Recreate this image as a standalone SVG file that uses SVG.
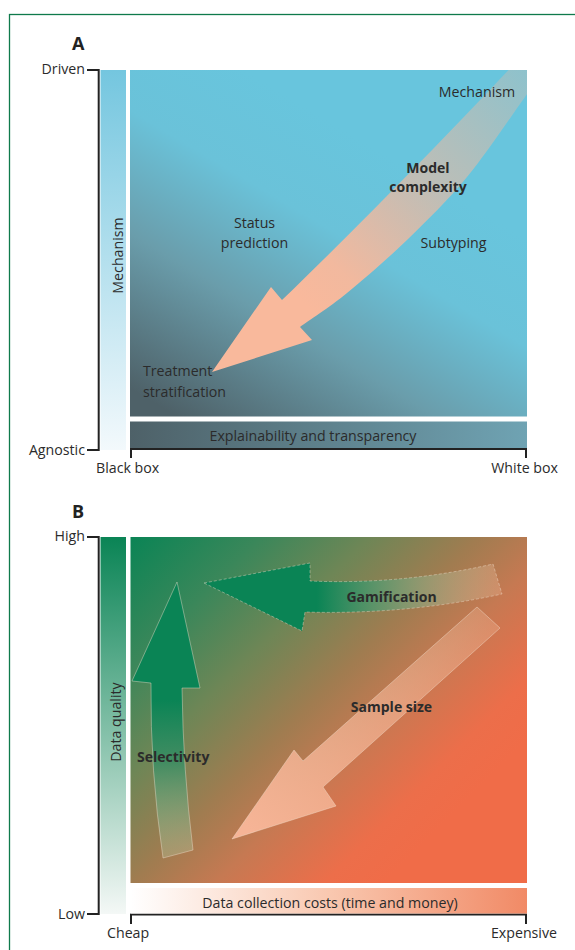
<svg xmlns="http://www.w3.org/2000/svg" width="575" height="950" viewBox="0 0 575 950">
<defs>
<style>
.t{font-family:"Open Sans","Liberation Sans",sans-serif;font-size:14.2px;fill:#2b2b2b}
.b{font-weight:bold;font-size:14px}
.ttl{font-family:"Open Sans","Liberation Sans",sans-serif;font-size:18px;font-weight:bold;fill:#222}
.ax{stroke:#222;stroke-width:2;fill:none}
.edge{stroke:#f4e2d2;stroke-opacity:0.6;stroke-width:0.7}
</style>
<linearGradient id="gA" gradientUnits="userSpaceOnUse" x1="370" y1="145" x2="200" y2="430">
<stop offset="0" stop-color="#68c5dd"/><stop offset="0.28" stop-color="#6ac2d9"/><stop offset="0.6" stop-color="#6a9dab"/><stop offset="1" stop-color="#4e6168"/>
</linearGradient>
<linearGradient id="gExp" x1="0" y1="0" x2="1" y2="0">
<stop offset="0" stop-color="#4e6168"/><stop offset="1" stop-color="#6fa3b3"/>
</linearGradient>
<linearGradient id="gMech" x1="0" y1="0" x2="0" y2="1">
<stop offset="0" stop-color="#74c6df"/><stop offset="1" stop-color="#f3f9fc"/>
</linearGradient>
<linearGradient id="gArrA" gradientUnits="userSpaceOnUse" x1="530" y1="65" x2="300" y2="300">
<stop offset="0" stop-color="#f9b99c" stop-opacity="0.25"/><stop offset="0.48" stop-color="#f9b99c" stop-opacity="0.6"/><stop offset="0.85" stop-color="#f9b99c" stop-opacity="0.95"/><stop offset="1" stop-color="#f9b99c"/>
</linearGradient>
<linearGradient id="gB" gradientUnits="userSpaceOnUse" x1="130" y1="537" x2="430" y2="837">
<stop offset="0" stop-color="#0a8455"/><stop offset="0.22" stop-color="#3b875a"/><stop offset="0.4" stop-color="#6e8656"/><stop offset="0.58" stop-color="#a07c50"/><stop offset="0.72" stop-color="#c67952"/><stop offset="0.9" stop-color="#ec6e4a"/><stop offset="1" stop-color="#f06c48"/>
</linearGradient>
<linearGradient id="gDQ" x1="0" y1="0" x2="0" y2="1">
<stop offset="0" stop-color="#0a8455"/><stop offset="1" stop-color="#f4f8f6"/>
</linearGradient>
<linearGradient id="gCost" x1="0" y1="0" x2="1" y2="0">
<stop offset="0" stop-color="#ffffff"/><stop offset="0.5" stop-color="#f9c8b0"/><stop offset="1" stop-color="#f18a66"/>
</linearGradient>
<linearGradient id="gGam" gradientUnits="userSpaceOnUse" x1="317" y1="0" x2="500" y2="0">
<stop offset="0" stop-color="#0a8455"/><stop offset="0.35" stop-color="#5a9a70" stop-opacity="0.8"/><stop offset="1" stop-color="#f0c0a0" stop-opacity="0.3"/>
</linearGradient>
<linearGradient id="gSam" gradientUnits="userSpaceOnUse" x1="490" y1="617" x2="250" y2="830">
<stop offset="0" stop-color="#f8c0a0" stop-opacity="0.3"/><stop offset="1" stop-color="#f6b496"/>
</linearGradient>
<linearGradient id="gSel" gradientUnits="userSpaceOnUse" x1="0" y1="700" x2="0" y2="858">
<stop offset="0" stop-color="#0a8455"/><stop offset="0.4" stop-color="#3a8e64" stop-opacity="0.85"/><stop offset="1" stop-color="#b8c8a0" stop-opacity="0.35"/>
</linearGradient>
<clipPath id="clipA"><rect x="130" y="70" width="397" height="346.5"/></clipPath>
</defs>
<rect x="9.5" y="14.5" width="600" height="1000" fill="none" stroke="#0f7a4c" stroke-width="1.3"/>

<g id="panelA">
<text class="ttl" x="72" y="50">A</text>
<g id="axisA">
<path class="ax" d="M87 70 H98.7 V450 H87"/>
<path class="ax" d="M131 458 V449 H526 V458"/>
<text class="t" x="85" y="74" text-anchor="end">Driven</text>
<text class="t" x="85" y="455" text-anchor="end">Agnostic</text>
<text class="t" x="96" y="473">Black box</text>
<text class="t" x="558" y="473" text-anchor="end">White box</text>
</g>
<g id="mechBar">
<rect x="100.5" y="70" width="25.5" height="380" fill="url(#gMech)"/>
<text class="t" transform="translate(122.5 255.5) rotate(-90)" text-anchor="middle">Mechanism</text>
</g>
<g id="mainA">
<rect x="130" y="70" width="397" height="346.5" fill="url(#gA)"/>
</g>
<g id="explBar">
<rect x="130" y="421.5" width="397" height="26.5" fill="url(#gExp)"/>
<text class="t" x="313" y="441" text-anchor="middle">Explainability and transparency</text>
</g>
<g id="connectorsA">
<path clip-path="url(#clipA)" fill="url(#gArrA)" d="M530 47 C470 112 360 225 282 300 L271 287 L212 372 L312 340 L300 327 C307.8 321.3 329.2 307.5 347 293 C364.8 278.5 387 259.3 407 240 C427 220.7 447.3 200.8 467 177 C486.7 153.2 510.8 116.5 525 97 C539.2 77.5 547.5 66.2 552 60 Z"/>
</g>
<g id="labelsA">
<text class="t" x="477" y="97" text-anchor="middle">Mechanism</text>
<text class="t b" x="428" y="173" text-anchor="middle">Model</text>
<text class="t b" x="428" y="192" text-anchor="middle">complexity</text>
<text class="t" x="254.5" y="228" text-anchor="middle">Status</text>
<text class="t" x="254.5" y="248" text-anchor="middle">prediction</text>
<text class="t" x="453.5" y="248" text-anchor="middle">Subtyping</text>
<text class="t" x="143" y="376">Treatment</text>
<text class="t" x="143" y="396.5">stratification</text>
</g>
</g>

<g id="panelB">
<text class="ttl" x="72" y="518">B</text>
<g id="axisB">
<path class="ax" d="M87 537 H98.7 V914 H87"/>
<path class="ax" d="M131 924 V914.5 H526 V924"/>
<text class="t" x="85" y="541" text-anchor="end">High</text>
<text class="t" x="85" y="919" text-anchor="end">Low</text>
<text class="t" x="107" y="938">Cheap</text>
<text class="t" x="557" y="938" text-anchor="end">Expensive</text>
</g>
<g id="dqBar">
<rect x="100.5" y="537" width="25.5" height="377" fill="url(#gDQ)"/>
<text class="t" transform="translate(121 722) rotate(-90)" text-anchor="middle">Data quality</text>
</g>
<g id="mainB">
<rect x="130.5" y="537" width="396.5" height="346" fill="url(#gB)"/>
</g>
<g id="costBar">
<rect x="130.5" y="888" width="396.5" height="25.5" fill="url(#gCost)"/>
<text class="t" x="330" y="908" text-anchor="middle">Data collection costs (time and money)</text>
</g>
<g id="connectorsB">
<path class="edge" fill="url(#gGam)" stroke-dasharray="3 2" d="M204 583 L310 563 L310 581 Q400 585 493 564 L502 594 Q405 615 305 612 L302 631 Z"/>
<path class="edge" fill="url(#gSam)" d="M477 607 L500 628 L323 787 L336 806 L232 839 L294 750 L303 761 Z"/>
<path class="edge" fill="url(#gSel)" d="M163 858 Q150 770 151 683 L132 681 L177 582 L200 688 L182 688 Q183 770 193 850 Z"/>
</g>
<g id="labelsB">
<text class="t b" x="391.5" y="601.5" text-anchor="middle">Gamification</text>
<text class="t b" x="391.5" y="711.5" text-anchor="middle">Sample size</text>
<text class="t b" x="137" y="761.5">Selectivity</text>
</g>
</g>
</svg>
